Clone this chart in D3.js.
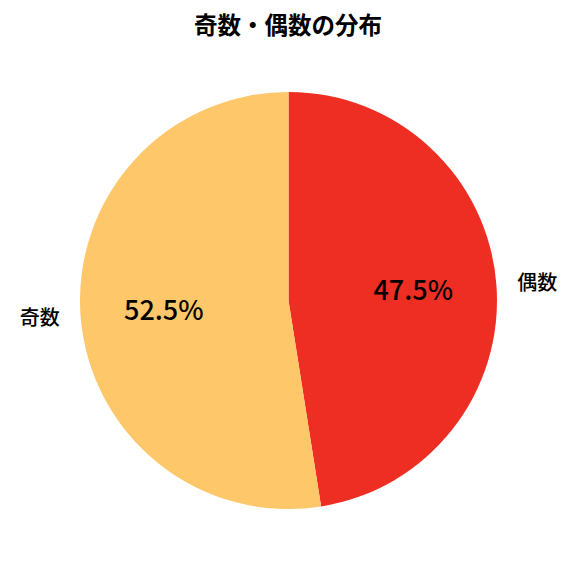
<!DOCTYPE html>
<html>
<head>
<meta charset="utf-8">
<script src="https://cdn.jsdelivr.net/npm/d3@7"></script>
<style>
  html, body { margin: 0; padding: 0; background: #fff; }
  text { font-family: "Noto Sans CJK JP", "Noto Sans", sans-serif; }
</style>
</head>
<body>
<script>
// data
const labels = ['偶数', '奇数']
const values = [47.5, 52.5]
const colors = ['#EE2E22', '#FDC76A']

const width = 576
const height = 576
const cx = 288.5
const cy = 300.5
const r = 208.5

const svg = d3
  .select('body')
  .append('svg')
  .attr('width', width)
  .attr('height', height)

// title
svg
  .append('text')
  .attr('x', width / 2)
  .attr('y', 26)
  .attr('dy', '0.35em')
  .attr('text-anchor', 'middle')
  .style('font-size', '23.5px')
  .style('font-weight', 'bold')
  .text('奇数・偶数の分布')

const pie = d3.pie().sort(null).value((d) => d.value)
const arcs = pie(labels.map((l, i) => ({ label: l, value: values[i], color: colors[i] })))

const arc = d3.arc().innerRadius(0).outerRadius(r)

const g = svg.append('g').attr('transform', `translate(${cx},${cy})`)

// 扇形
g.selectAll('path')
  .data(arcs)
  .join('path')
  .attr('d', arc)
  .attr('fill', (d) => d.data.color)

const mid = (d) => (d.startAngle + d.endAngle) / 2

// 外側ラベル
g.selectAll('text.label')
  .data(arcs)
  .join('text')
  .attr('class', 'label')
  .attr('x', (d) => Math.sin(mid(d)) * r * 1.1)
  .attr('y', (d) => -Math.cos(mid(d)) * r * 1.1)
  .attr('dy', '0.35em')
  .attr('text-anchor', (d) => (Math.sin(mid(d)) > 0 ? 'start' : 'end'))
  .style('font-size', '20px')
  .style('font-weight', 500)
  .text((d) => d.data.label)

// パーセント
g.selectAll('text.pct')
  .data(arcs)
  .join('text')
  .attr('class', 'pct')
  .attr('x', (d) => Math.sin(mid(d)) * r * 0.6)
  .attr('y', (d) => -Math.cos(mid(d)) * r * 0.6)
  .attr('dy', '0.35em')
  .attr('text-anchor', 'middle')
  .style('font-size', '27px')
  .style('font-weight', 500)
  .text((d) => d3.format('.1f')(d.data.value) + '%')
</script>
</body>
</html>
